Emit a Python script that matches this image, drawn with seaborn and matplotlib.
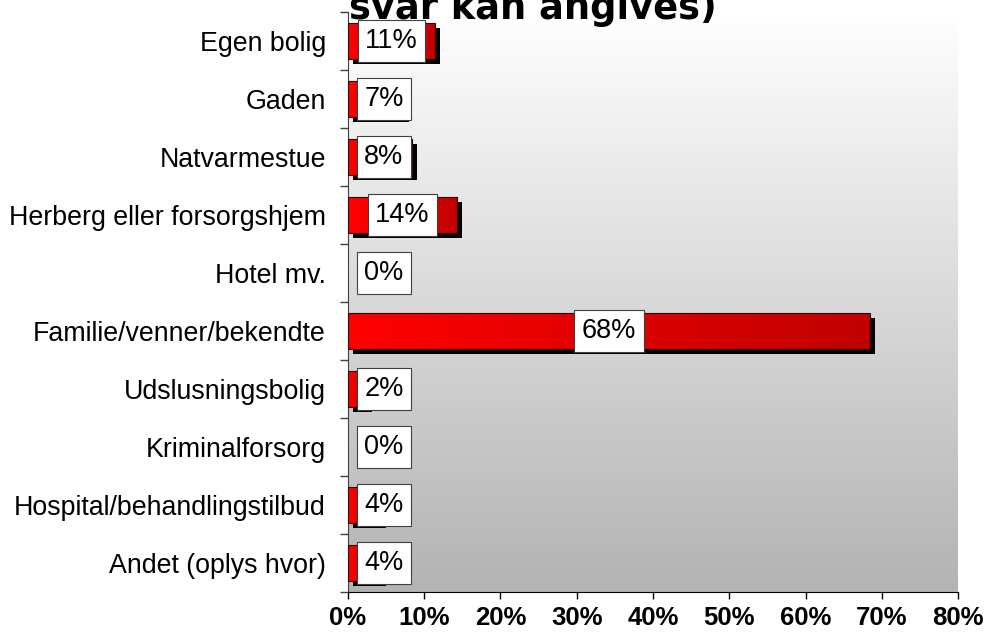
import numpy as np
import pandas as pd
import seaborn as sns
import matplotlib.pyplot as plt
from matplotlib import patheffects as pe
from matplotlib.patches import Rectangle
from matplotlib.colors import LinearSegmentedColormap
from matplotlib.ticker import FuncFormatter

# data
categories = ["Egen bolig", "Gaden", "Natvarmestue", "Herberg eller forsorgshjem",
              "Hotel mv.", "Familie/venner/bekendte", "Udslusningsbolig",
              "Kriminalforsorg", "Hospital/behandlingstilbud", "Andet (oplys hvor)"]
values = [11.4, 7.3, 8.4, 14.3, 0.0, 68.4, 2.4, 0.0, 4.3, 4.3]
labels = ["11%", "7%", "8%", "14%", "0%", "68%", "2%", "0%", "4%", "4%"]
xticks = [0, 10, 20, 30, 40, 50, 60, 70, 80]
title_tail = "svar kan angives)"

sns.set_style("white")
plt.rcParams['font.family'] = ['Liberation Sans', 'DejaVu Sans']
plt.rcParams['text.color'] = 'black'
plt.rcParams['xtick.color'] = 'black'
plt.rcParams['ytick.color'] = 'black'

fig = plt.figure(figsize=(9.87, 6.35), dpi=100)
ax = fig.add_axes([348/987, 1-592/635, 610/987, 580/635])

df = pd.DataFrame({"sted": categories, "andel": values})
sns.barplot(data=df, x="andel", y="sted", orient="h", color="red",
            width=0.62, ax=ax, zorder=2)

# grey gradient background of the plot area
bg_cmap = LinearSegmentedColormap.from_list("bg", ["#ffffff", "#b3b3b3"])
ax.imshow(np.linspace(0, 1, 256).reshape(-1, 1), cmap=bg_cmap, aspect="auto",
          extent=[0, 1, 0, 1], transform=ax.transAxes, zorder=0)

# red gradient bars with a black drop shadow
red_cmap = LinearSegmentedColormap.from_list("red", ["#ff0000", "#c00000"])
grad = np.linspace(0, 1, 256).reshape(1, -1)
for patch, v in zip(ax.patches, values):
    patch.set_linewidth(0)
    if v <= 0:
        patch.set_visible(False)
        continue
    patch.set_path_effects([pe.SimplePatchShadow(offset=(3.8, -3.8), shadow_rgbFace="black", alpha=1.0),
                            pe.Normal()])
    x0, y0, w, h = patch.get_x(), patch.get_y(), patch.get_width(), patch.get_height()
    im = ax.imshow(grad, cmap=red_cmap, aspect="auto", extent=[x0, x0+w, y0+h, y0], zorder=3)
    im.set_clip_path(patch)
    ax.add_patch(Rectangle((x0, y0), w, h, fill=False, edgecolor="#300000", lw=0.8, zorder=4))

# value labels in white boxes
for i, (v, lab) in enumerate(zip(values, labels)):
    ax.text(max(v/2, 4.7), i, lab, ha="center", va="center", fontsize=19.5, zorder=5,
            color="black",
            bbox=dict(boxstyle="square,pad=0.28", fc="white", ec="#404040", lw=0.8))

ax.set_xlim(0, 80)
ax.set_ylim(9.5, -0.5)
ax.set_xticks(xticks)
ax.xaxis.set_major_formatter(FuncFormatter(lambda x, p: f"{x:.0f}%"))
ax.set_yticks(np.arange(-0.5, 10, 1), minor=True)
ax.set_xlabel("")
ax.set_ylabel("")

ax.tick_params(axis="y", which="major", left=False, length=0, pad=16, labelsize=19.3, labelcolor="black")
ax.tick_params(axis="y", which="minor", left=True, length=6, width=1, color="#404040", direction="out")
ax.tick_params(axis="x", which="major", bottom=True, length=5, width=1, color="black",
               direction="out", pad=5, labelsize=18.5, labelcolor="black")
for lab in ax.get_xticklabels():
    lab.set_fontweight("bold")

ax.spines["top"].set_visible(False)
ax.spines["right"].set_visible(False)
ax.spines["left"].set_color("#404040")
ax.spines["bottom"].set_color("black")

fig.text(533/987, 1-19/635, title_tail, ha="center", va="baseline", color="black",
         fontsize=26.5, fontweight="bold", family=["DejaVu Sans"])

fig.savefig("out.png", dpi=100)
